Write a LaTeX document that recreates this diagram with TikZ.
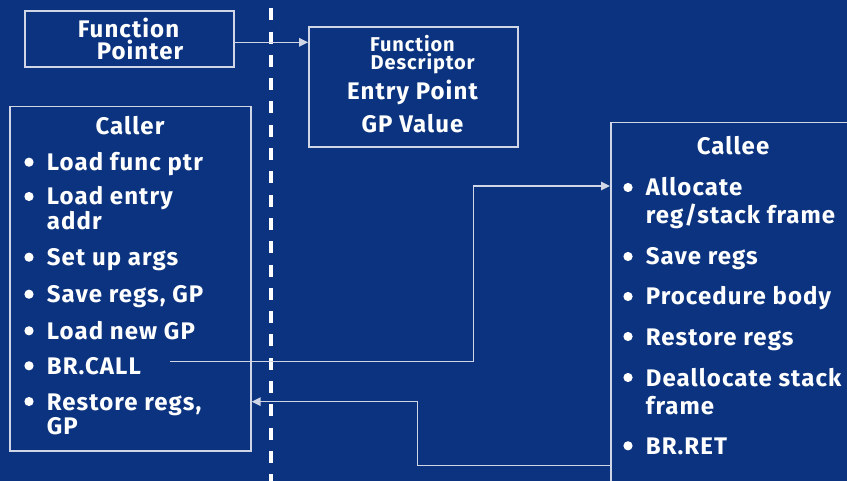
\documentclass[tikz,border=0pt]{standalone}
\usepackage{fontspec}
\setmainfont{Fira Sans}[LetterSpace=4.5]
\usetikzlibrary{arrows.meta}
\definecolor{navy}{RGB}{11,51,127}
\definecolor{rulecol}{RGB}{208,214,230}

\begin{document}
\begin{tikzpicture}[x=1pt,y=-1pt,
  box/.style={draw=rulecol,line width=1.6pt,inner sep=0,anchor=north west},
  txt/.style={text=white,font=\fontsize{24}{25}\selectfont\bfseries,inner sep=0,anchor=base west},
  ctxt/.style={txt,anchor=base},
  small/.style={txt,font=\fontsize{20}{21}\selectfont\bfseries},
  conn/.style={draw=rulecol,line width=1.5pt,-{Triangle[length=9pt,width=8.5pt]}},
  divider/.style={draw=white,line width=4pt,dash pattern=on 12pt off 11.3pt},
  dot/.style={fill=white}
]
\useasboundingbox (0,0) rectangle (847,481);
\fill[navy] (0,0) rectangle (847,481);
\clip (0,0) rectangle (847,481);

% bullet helper: name, baseline, text, left edge of text, bullet centre x
\newcommand\bulletline[5]{%
  \fill[dot] (#5,{#2-8.5}) circle (4.6);
  \node[txt] (#1) at (#4,#2) {#3};}

% dashed divider between caller side and callee side
\coordinate (divtop) at (271.3,8.3);
\coordinate (divbot) at (271.3,490);
\draw[divider] (divtop) -- (divbot);

% function pointer
\node[box,minimum width=209pt,minimum height=56pt] (fp) at (24,10) {};
\node[ctxt] (fpa) at (128.5,37.7) {Function};
\node[ctxt] (fpb) at (140,59.3) {Pointer};

% function descriptor
\node[box,minimum width=209pt,minimum height=120pt] (desc) at (308,26) {};
\node[small] (desca) at (370,51.2) {Function};
\node[small] (descb) at (370.5,69.2) {Descriptor};
\node[ctxt] (descc) at (412.5,100) {Entry Point};
\node[ctxt] (descd) at (412.5,133) {GP Value};

\draw[conn] (fp.east |- 0,42.3) -- (desc.west |- 0,42.3);

% caller
\node[box,minimum width=241pt,minimum height=344.3pt] (caller) at (9,105.7) {};
\node[ctxt] (callerttl) at (130,135) {Caller};
\bulletline{c1}{170.7}{Load func ptr}{46.7}{29}
\bulletline{c2}{205}{Load entry}{46.7}{29}
\node[txt] (c2b) at (46.7,230) {addr};
\bulletline{c3}{265.7}{Set up args}{46.7}{29}
\bulletline{c4}{302.7}{Save regs, GP}{46.7}{29}
\bulletline{c5}{339.3}{Load new GP}{46.7}{29}
\bulletline{c6}{374.3}{BR.CALL}{46.7}{29}
\bulletline{c7}{410}{Restore regs,}{46.7}{29}
\node[txt] (c7b) at (46.7,435) {GP};

% callee
\node[box,minimum width=300pt,minimum height=400pt] (callee) at (610,121.7) {};
\node[ctxt] (calleettl) at (733,155) {Callee};
\bulletline{e1}{196}{Allocate}{645.7}{628}
\node[txt] (e1b) at (645.7,223.3) {reg/stack frame};
\bulletline{e2}{265}{Save regs}{645.7}{628}
\bulletline{e3}{305}{Procedure body}{645.7}{628}
\bulletline{e4}{345}{Restore regs}{645.7}{628}
\bulletline{e5}{386}{Deallocate stack}{645.7}{628}
\node[txt] (e5b) at (645.7,414) {frame};
\bulletline{e6}{454.3}{BR.RET}{645.7}{628}

% call and return paths
\coordinate (callout) at (170,361.7);
\coordinate (calljog) at (473.3,186);
\draw[conn] (callout) -| (calljog) -- (callee.west |- calljog);

\coordinate (retout) at (610,465.7);
\coordinate (retjog) at (417.3,401.7);
\draw[conn] (retout) -| (retjog) -- (caller.east |- retjog);
\end{tikzpicture}
\end{document}
